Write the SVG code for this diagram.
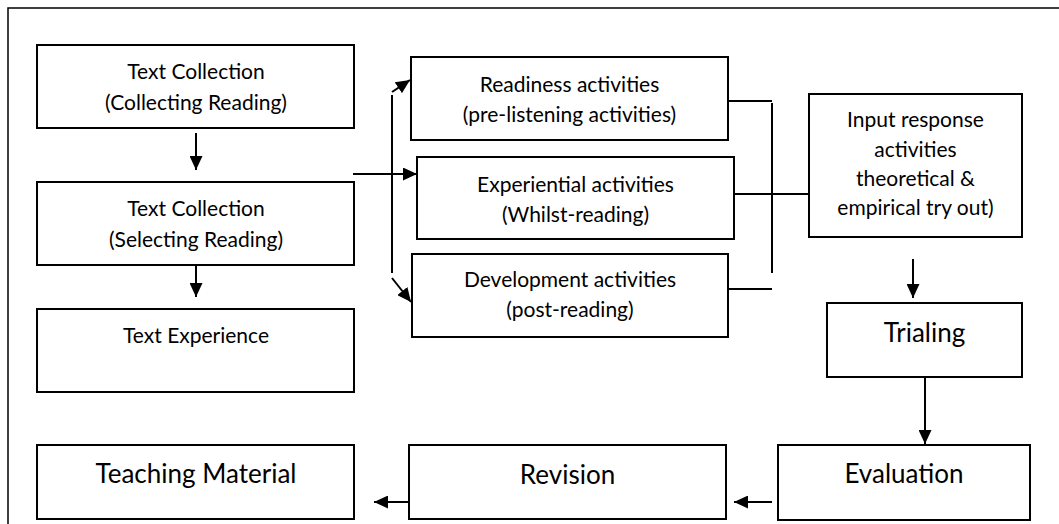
<svg xmlns="http://www.w3.org/2000/svg" width="1059" height="524" viewBox="0 0 1059 524">
<style>
.box{fill:#fff;stroke:#000;stroke-width:2}
.t{font-family:Lato,"Liberation Sans",sans-serif;font-size:21px;fill:#000;text-anchor:middle}
.b{font-family:Lato,"Liberation Sans",sans-serif;font-size:26px;fill:#000;text-anchor:middle}
.ln{fill:none;stroke:#000;stroke-width:2}
.ar{fill:none;stroke:#000;stroke-width:2;marker-end:url(#ah)}
</style>
<defs>
<marker id="ah" markerUnits="userSpaceOnUse" markerWidth="15" markerHeight="13" refX="14" refY="6.5" orient="auto">
<path d="M0,0 L14,6.5 L0,13 z" fill="#000"/>
</marker>
</defs>
<rect width="1059" height="524" fill="#fff"/>
<path d="M8,524 V8 H1059" fill="none" stroke="#000" stroke-width="1.5"/>

<g id="connectors">
<line class="ar" x1="196" y1="133" x2="196" y2="170"/>
<line class="ar" x1="196" y1="265" x2="196" y2="297"/>
<line class="ar" x1="353" y1="174" x2="417" y2="174"/>
<line class="ln" x1="392" y1="95" x2="392" y2="273"/>
<line class="ar" x1="392" y1="92" x2="410" y2="80"/>
<line class="ar" x1="392" y1="278" x2="411" y2="302"/>
<line class="ln" x1="728" y1="101" x2="772" y2="101"/>
<line class="ln" x1="772" y1="103" x2="772" y2="273"/>
<line class="ln" x1="728" y1="289" x2="772" y2="289"/>
<line class="ln" x1="734" y1="194" x2="809" y2="194"/>
<line class="ar" x1="913" y1="259" x2="913" y2="298"/>
<line class="ar" x1="925" y1="372" x2="925" y2="444"/>
<line class="ar" x1="772" y1="502" x2="734" y2="502"/>
<line class="ar" x1="409" y1="502" x2="374" y2="502"/>
</g>

<g id="text-collection-1">
<rect class="box" x="37" y="45" width="317" height="83"/>
<text class="t" x="196" y="79">Text Collection</text>
<text class="t" x="196" y="110">(Collecting Reading)</text>
</g>
<g id="text-collection-2">
<rect class="box" x="37" y="182" width="317" height="83"/>
<text class="t" x="196" y="216">Text Collection</text>
<text class="t" x="196" y="247">(Selecting Reading)</text>
</g>
<g id="text-experience">
<rect class="box" x="37" y="309" width="317" height="83"/>
<text class="t" x="196" y="343">Text Experience</text>
</g>
<g id="teaching-material">
<rect class="box" x="37" y="445" width="317" height="74"/>
<text class="b" x="196" y="483">Teaching Material</text>
</g>
<g id="readiness">
<rect class="box" x="411" y="57" width="317" height="83"/>
<text class="t" x="569.5" y="92">Readiness activities</text>
<text class="t" x="569.5" y="122">(pre-listening activities)</text>
</g>
<g id="experiential">
<rect class="box" x="417" y="157" width="317" height="82"/>
<text class="t" x="575.5" y="192">Experiential activities</text>
<text class="t" x="575.5" y="222">(Whilst-reading)</text>
</g>
<g id="development">
<rect class="box" x="412" y="254" width="316" height="83"/>
<text class="t" x="570" y="287">Development activities</text>
<text class="t" x="570" y="317">(post-reading)</text>
</g>
<g id="input-response">
<rect class="box" x="809" y="94" width="213" height="143"/>
<text class="t" x="915.5" y="127">Input response</text>
<text class="t" x="915.5" y="157">activities</text>
<text class="t" x="915.5" y="186">theoretical &amp;</text>
<text class="t" x="915.5" y="215">empirical try out)</text>
</g>
<g id="trialing">
<rect class="box" x="827" y="303" width="195" height="74"/>
<text class="b" x="924.5" y="342">Trialing</text>
</g>
<g id="evaluation">
<rect class="box" x="778" y="445" width="252" height="75"/>
<text class="b" x="904" y="483">Evaluation</text>
</g>
<g id="revision">
<rect class="box" x="409" y="445" width="317" height="74"/>
<text class="b" x="567.5" y="484">Revision</text>
</g>
</svg>
